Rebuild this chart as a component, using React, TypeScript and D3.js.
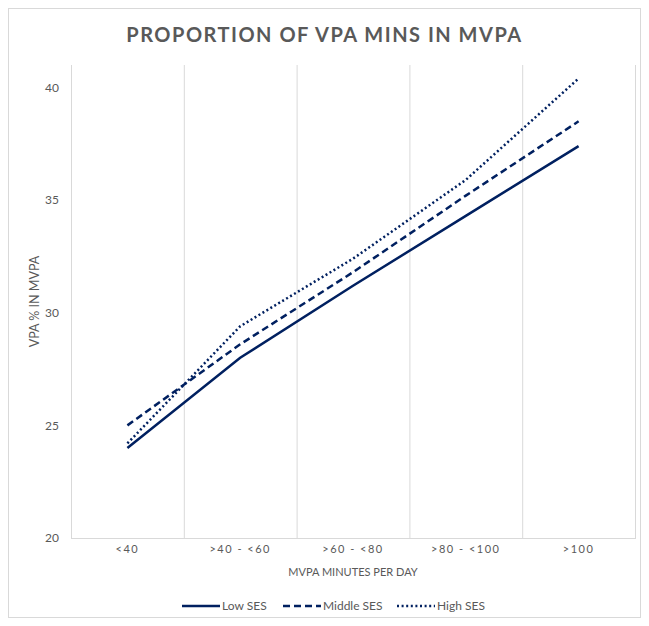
import { useEffect, useRef } from "react"
import * as d3 from "d3"

const categories = ["<40", ">40 - <60", ">60 - <80", ">80 - <100", ">100"]
const lowSES = [24.0, 28.0, 31.2, 34.3, 37.4]
const middleSES = [25.0, 28.6, 31.8, 35.2, 38.5]
const highSES = [24.2, 29.4, 32.4, 35.9, 40.4]
const yTicks = [20, 25, 30, 35, 40]

const seriesList = [
  { name: "Low SES", values: lowSES, dash: "none" },
  { name: "Middle SES", values: middleSES, dash: "7 4" },
  { name: "High SES", values: highSES, dash: "2 2.6" },
]

export default function App() {
  const svgRef = useRef<SVGSVGElement>(null)

  useEffect(() => {
    if (!svgRef.current) return
    const width = 649
    const height = 626
    const svg = d3.select(svgRef.current)
    svg.selectAll("*").remove()

    const font = "Lato, 'Open Sans', sans-serif"
    const grey = "#595959"
    const navy = "#002060"
    const left = 71
    const right = 635
    const top = 65
    const bottom = 538

    // outer chart border
    svg
      .append("rect")
      .attr("x", 8.5)
      .attr("y", 8.5)
      .attr("width", width - 17)
      .attr("height", height - 17)
      .attr("fill", "#fff")
      .attr("stroke", "#d9d9d9")

    svg
      .append("text")
      .attr("x", (8 + width - 8) / 2)
      .attr("y", 42)
      .attr("text-anchor", "middle")
      .attr("font-family", font)
      .attr("font-weight", "bold")
      .attr("font-size", 20)
      .attr("letter-spacing", 1.5)
      .attr("fill", grey)
      .text("PROPORTION OF VPA MINS IN MVPA")

    const x = d3.scaleBand<string>().domain(categories).range([left, right])
    const y = d3.scaleLinear().domain([20, 41]).range([bottom, top])

    // vertical gridlines at category boundaries
    const bounds = categories.map((c) => x(c) as number).concat([right])
    svg
      .append("g")
      .selectAll("line")
      .data(bounds)
      .enter()
      .append("line")
      .attr("x1", (d) => d + 0.5)
      .attr("x2", (d) => d + 0.5)
      .attr("y1", top)
      .attr("y2", bottom)
      .attr("stroke", "#d9d9d9")
      .attr("stroke-width", 1)

    svg
      .append("line")
      .attr("x1", left)
      .attr("x2", right + 1)
      .attr("y1", bottom + 0.5)
      .attr("y2", bottom + 0.5)
      .attr("stroke", "#d9d9d9")

    // y tick labels
    svg
      .append("g")
      .selectAll("text")
      .data(yTicks)
      .enter()
      .append("text")
      .attr("x", 59)
      .attr("y", (d) => y(d))
      .attr("dy", "0.35em")
      .attr("text-anchor", "end")
      .attr("font-family", font)
      .attr("font-size", 12)
      .attr("fill", grey)
      .text((d) => d)

    // x tick labels
    svg
      .append("g")
      .selectAll("text")
      .data(categories)
      .enter()
      .append("text")
      .attr("x", (d) => (x(d) as number) + x.bandwidth() / 2)
      .attr("y", 553)
      .attr("text-anchor", "middle")
      .attr("font-family", font)
      .attr("font-size", 11)
      .attr("letter-spacing", 1.5)
      .attr("fill", grey)
      .text((d) => d)

    svg
      .append("text")
      .attr("x", (left + right) / 2)
      .attr("y", 576)
      .attr("text-anchor", "middle")
      .attr("font-family", font)
      .attr("font-size", 11)
      .attr("fill", grey)
      .text("MVPA MINUTES PER DAY")

    svg
      .append("text")
      .attr("transform", `translate(39,${(top + bottom) / 2}) rotate(-90)`)
      .attr("text-anchor", "middle")
      .attr("font-family", font)
      .attr("font-size", 12.5)
      .attr("fill", grey)
      .text("VPA % IN MVPA")

    const line = d3
      .line<number>()
      .x((_, i) => (x(categories[i]) as number) + x.bandwidth() / 2)
      .y((d) => y(d))

    seriesList.forEach((s) => {
      svg
        .append("path")
        .datum(s.values)
        .attr("fill", "none")
        .attr("stroke", navy)
        .attr("stroke-width", 2.5)
        .attr("stroke-dasharray", s.dash)
        .attr("d", line)
    })

    // legend
    const legendX = [182, 283, 397]
    const legend = svg
      .append("g")
      .selectAll("g")
      .data(seriesList)
      .enter()
      .append("g")
      .attr("transform", (_, i) => `translate(${legendX[i]},606)`)

    legend
      .append("line")
      .attr("x1", 0)
      .attr("x2", 38)
      .attr("y1", 0)
      .attr("y2", 0)
      .attr("stroke", navy)
      .attr("stroke-width", 2.5)
      .attr("stroke-dasharray", (d) => d.dash)

    legend
      .append("text")
      .attr("x", 40)
      .attr("y", 0)
      .attr("dy", "0.35em")
      .attr("font-family", font)
      .attr("font-size", 12)
      .attr("fill", grey)
      .text((d) => d.name)
  }, [])

  return (
    <svg
      ref={svgRef}
      width={649}
      height={626}
      style={{ position: "absolute", left: 0, top: 0 }}
    ></svg>
  )
}
